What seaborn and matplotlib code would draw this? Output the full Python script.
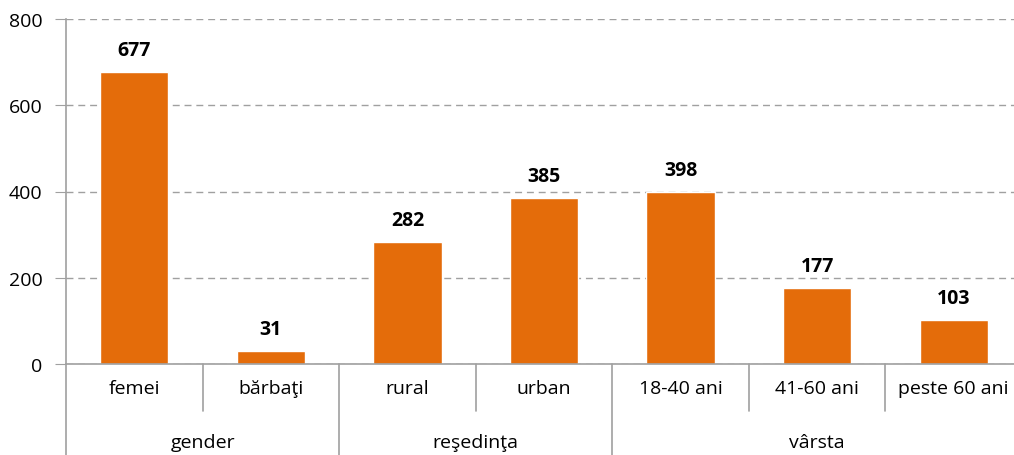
import matplotlib
matplotlib.use("Agg")
import matplotlib.pyplot as plt
import seaborn as sns
import pandas as pd

categories = ["femei", "bărbaţi", "rural", "urban", "18-40 ani", "41-60 ani", "peste 60 ani"]
values = [677, 31, 282, 385, 398, 177, 103]
groups = ["gender", "reşedinţa", "vârsta"]
group_sizes = [2, 2, 3]
y_ticks = [0, 200, 400, 600, 800]

bar_color = "#E46C0A"
line_color = "#A0A0A0"

sns.set_style("white")
plt.rcParams['font.family'] = ['Open Sans', 'DejaVu Sans']
plt.rcParams['text.color'] = 'black'
plt.rcParams['xtick.color'] = 'black'
plt.rcParams['ytick.color'] = 'black'

df = pd.DataFrame({"cat": categories, "val": values})

fig = plt.figure(figsize=(10.14, 4.56), dpi=100)
ax = fig.add_axes([66 / 1014, 1 - 365 / 456, (1022 - 66) / 1014, 345 / 456])

sns.barplot(data=df, x="cat", y="val", color=bar_color, width=0.5, ax=ax, saturation=1)

ax.set_ylim(0, 800)
ax.set_xlim(-0.5, len(categories) - 0.5)
ax.set_yticks(y_ticks)
ax.set_xlabel("")
ax.set_ylabel("")
ax.yaxis.grid(True, linestyle=(0, (5, 3.5)), color=line_color, linewidth=1)
ax.set_axisbelow(True)
for s in ["top", "right"]:
    ax.spines[s].set_visible(False)
for s in ["left", "bottom"]:
    ax.spines[s].set_color(line_color)
    ax.spines[s].set_linewidth(1.2)
ax.tick_params(axis="y", length=8, color=line_color, labelcolor="black", labelsize=14,
               pad=9, direction="out", left=True)
ax.tick_params(axis="x", length=0, labelcolor="black", labelsize=14, pad=11)

for i, v in enumerate(values):
    ax.text(i, v + 28, str(v), ha="center", va="bottom", fontsize=14, fontweight="bold",
            color="black")

# multi-level category axis
tr = ax.get_xaxis_transform()
inner_bottom = -0.135
outer_bottom = -0.27
start = 0
for g, n in zip(groups, group_sizes):
    left = start - 0.5
    ax.plot([left, left], [0, outer_bottom], transform=tr, color=line_color,
            linewidth=1.2, clip_on=False)
    for k in range(1, n):
        xs = start + k - 0.5
        ax.plot([xs, xs], [0, inner_bottom], transform=tr, color=line_color,
                linewidth=1.2, clip_on=False)
    ax.text(start + (n - 1) / 2, -0.225, g, transform=tr, ha="center", va="center",
            fontsize=14, color="black")
    start += n

fig.savefig("out.png", dpi=100)
